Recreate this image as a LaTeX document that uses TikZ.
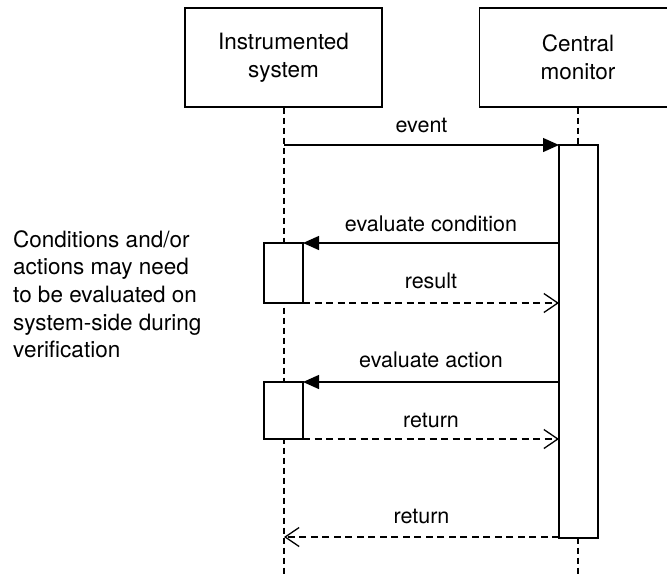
\documentclass[tikz,border=0pt]{standalone}
\usepackage{fontspec}
\setmainfont{TeX Gyre Heros}
\usetikzlibrary{arrows.meta}
\begin{document}
\begin{tikzpicture}[x=1pt,y=-1pt,
  lw/.style={line width=1.3pt},
  actor/.style={lw,draw,minimum width=197pt,minimum height=99pt,align=center,font=\fontsize{22.5}{27.5}\selectfont,inner sep=0pt},
  life/.style={lw,dash pattern=on 6pt off 4pt},
  act/.style={lw,draw,fill=white},
  call/.style={lw,-{Triangle[length=16pt,width=14pt]}},
  ret/.style={lw,dash pattern=on 7pt off 4.5pt,-{Straight Barb[length=14pt,width=19pt,line width=1.3pt]}},
  lbl/.style={anchor=base,font=\fontsize{21.5}{26}\selectfont,inner sep=0pt},
]
\useasboundingbox (0,0) rectangle (667,576);
% actors
\node[actor] (sys) at (283.5,57.5) {Instrumented\\system};
\node[actor] (mon) at (578,57.5) {Central\\monitor};
% lifelines
\coordinate (sysend) at (284,576);
\coordinate (monend) at (578,576);
\draw[life] (sys.south -| sysend) -- (sysend);
\draw[life] (mon.south -| monend) -- (monend);
% activations
\draw[act] (559,145) rectangle (598,538);
\coordinate (mtop) at (559,145);
\draw[act] (264,243) rectangle (303,303);
\draw[act] (264,382) rectangle (303,439);
% points
\coordinate (e1) at (284,145);
\coordinate (c1) at (559,243);
\coordinate (c2) at (303,243);
\coordinate (r1) at (303,303);
\coordinate (r2) at (559,303);
\coordinate (a1) at (559,382);
\coordinate (a2) at (303,382);
\coordinate (t1) at (303,439);
\coordinate (t2) at (559,439);
\coordinate (f1) at (559,537);
\coordinate (f2) at (284,537);
% messages
\draw[call] (e1) -- (mtop) node[lbl,midway,yshift=13pt] {event};
\draw[call] (c1) -- (c2) node[lbl,midway,yshift=12pt] {evaluate condition};
\draw[ret] (r1) -- (r2) node[lbl,midway,yshift=15pt] {result};
\draw[call] (a1) -- (a2) node[lbl,midway,yshift=15pt] {evaluate action};
\draw[ret] (t1) -- (t2) node[lbl,midway,yshift=12pt] {return};
\draw[ret] (f1) -- (f2) node[lbl,midway,yshift=14pt] {return};
% note
\node[anchor=north west,align=left,inner sep=0pt,font=\fontsize{22.5}{27.7}\selectfont] (note) at (13,230)
 {Conditions and/or\\actions may need\\to be evaluated on\\system-side during\\verification};
\end{tikzpicture}
\end{document}
